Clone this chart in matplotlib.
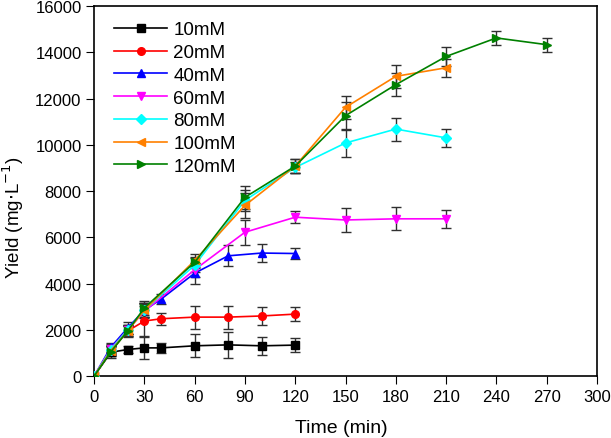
import matplotlib.pyplot as plt

plt.rcParams['font.family'] = ['Liberation Sans', 'DejaVu Sans']

# time points (min)
t_low = [0, 10, 20, 30, 40, 60, 80, 100, 120]
t_mid = [0, 10, 20, 30, 60, 90, 120, 150, 180, 210]
t_high = [0, 10, 20, 30, 60, 90, 120, 150, 180, 210, 240, 270]

# yield (mg/L) and error bars
y_10 = [0, 1030, 1150, 1220, 1220, 1310, 1350, 1310, 1340]
e_10 = [0, 250, 150, 480, 220, 500, 550, 400, 300]
y_20 = [0, 1080, 1950, 2380, 2480, 2550, 2550, 2600, 2680]
e_20 = [0, 200, 250, 650, 250, 500, 500, 400, 300]
y_40 = [0, 1250, 2080, 2850, 3330, 4450, 5200, 5320, 5300]
e_40 = [0, 200, 250, 300, 200, 450, 450, 400, 250]
y_60 = [0, 1180, 2000, 2800, 4600, 6220, 6870, 6750, 6800, 6800]
e_60 = [0, 200, 200, 300, 300, 550, 250, 500, 500, 400]
y_80 = [0, 1150, 2000, 2850, 4800, 7600, 9020, 10080, 10680, 10300]
e_80 = [0, 200, 200, 300, 300, 450, 250, 600, 500, 400]
y_100 = [0, 1100, 1950, 2850, 5000, 7380, 9080, 11620, 12960, 13330]
e_100 = [0, 200, 200, 300, 300, 550, 300, 500, 500, 400]
y_120 = [0, 1050, 1950, 2950, 4920, 7730, 9080, 11260, 12600, 13820, 14620, 14330]
e_120 = [0, 200, 200, 300, 250, 500, 300, 600, 500, 400, 300, 300]

series = [
    ("10mM", t_low, y_10, e_10, "black", "s"),
    ("20mM", t_low, y_20, e_20, "red", "o"),
    ("40mM", t_low, y_40, e_40, "blue", "^"),
    ("60mM", t_mid, y_60, e_60, "magenta", "v"),
    ("80mM", t_mid, y_80, e_80, "cyan", "D"),
    ("100mM", t_mid, y_100, e_100, "#FF8000", "<"),
    ("120mM", t_high, y_120, e_120, "#008000", ">"),
]

fig = plt.figure(figsize=(6.11, 4.39), dpi=100)
ax = fig.add_axes([0.154, 0.141, 0.823, 0.843])

for label, t, y, e, c, m in series:
    # error bars first, then line with marker on top
    ax.errorbar(t, y, yerr=e, fmt="none", ecolor="#303030", elinewidth=1,
                capsize=3.5, zorder=2)
    ax.plot(t, y, color=c, marker=m, markersize=5.5, linewidth=1.2,
            label=label, zorder=3)

ax.set_xlim(0, 300)
ax.set_ylim(0, 16000)
ax.set_xticks(range(0, 301, 30))
ax.set_yticks(range(0, 16001, 2000))
ax.tick_params(axis='both', labelsize=12, direction='out', length=6, pad=3)
ax.set_xlabel("Time (min)", fontsize=14, va="center", ha="center")
ax.set_ylabel("Yield (mg$\\cdot$L$^{-1}$)", fontsize=13.5, va="center", ha="center")
ax.xaxis.set_label_coords(0.492, -0.138)
ax.yaxis.set_label_coords(-0.161, 0.43)
for s in ax.spines.values():
    s.set_linewidth(1.2)

ax.legend(loc="upper left", bbox_to_anchor=(0.029, 0.974), frameon=False,
          fontsize=13.5, handlelength=2.8, handletextpad=0.35,
          labelspacing=0.3, borderaxespad=0, borderpad=0.3)

fig.savefig("out.png", dpi=100)
